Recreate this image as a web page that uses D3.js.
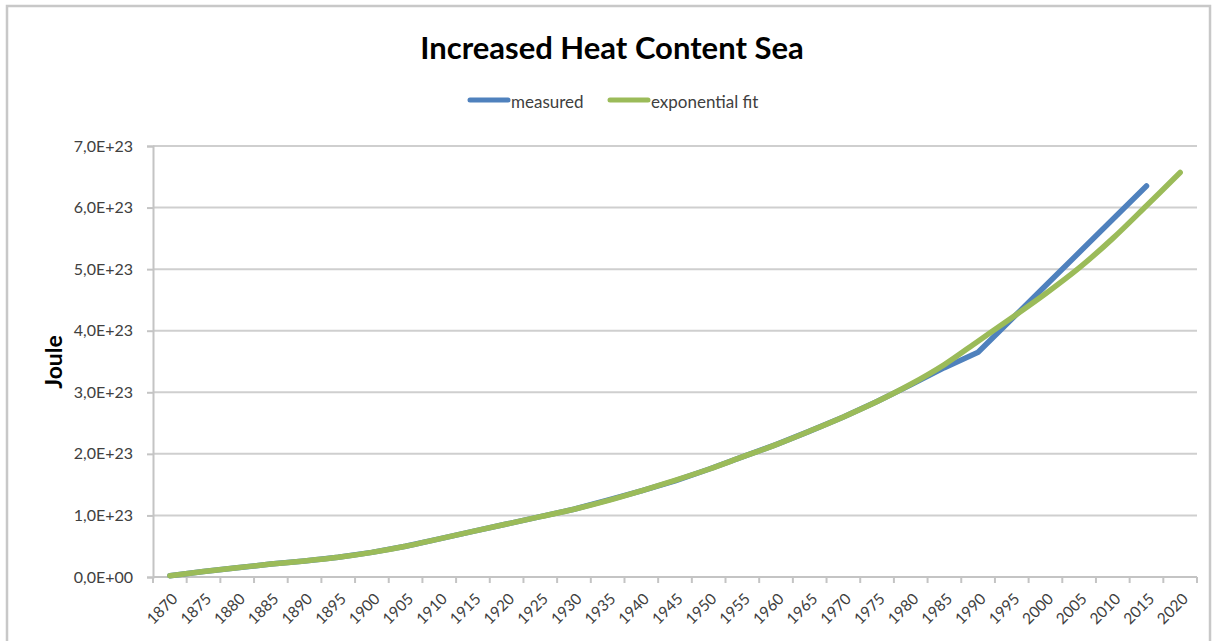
<!DOCTYPE html>
<html>
<head>
<meta charset="utf-8">
<script src="https://cdn.jsdelivr.net/npm/d3@7"></script>
<style>
  html, body { margin: 0; padding: 0; background: #fff; }
  svg { display: block; }
</style>
</head>
<body>
<svg id="chart" width="1218" height="641"></svg>
<script>
const years = ["1870","1875","1880","1885","1890","1895","1900","1905","1910","1915",
  "1920","1925","1930","1935","1940","1945","1950","1955","1960","1965",
  "1970","1975","1980","1985","1990","1995","2000","2005","2010","2015","2020"];

// values in Joule
const measured = [0.02,0.09,0.15,0.21,0.26,0.32,0.40,0.50,0.62,0.74,
  0.86,0.98,1.10,1.25,1.40,1.56,1.75,1.95,2.15,2.37,
  2.60,2.85,3.12,3.40,3.65,4.19,4.73,5.27,5.81,6.35].map(v => v * 1e23);

const expFit = [0.02,0.09,0.15,0.21,0.26,0.32,0.40,0.50,0.62,0.74,
  0.86,0.98,1.10,1.24,1.40,1.57,1.75,1.95,2.15,2.37,
  2.60,2.85,3.13,3.45,3.83,4.21,4.60,5.02,5.50,6.03,6.57].map(v => v * 1e23);

const yTicks = [0,1e23,2e23,3e23,4e23,5e23,6e23,7e23];
const yTickLabels = ["0,0E+00","1,0E+23","2,0E+23","3,0E+23","4,0E+23","5,0E+23","6,0E+23","7,0E+23"];

const seriesNames = ["measured", "exponential fit"];
const seriesColors = ["#4F81BD", "#9BBB59"];

const svg = d3.select("#chart");
const font = "Lato, 'Open Sans', sans-serif";

// outer border
svg.append("rect").attr("x", 7).attr("y", 6).attr("width", 1203).attr("height", 700)
  .attr("fill", "#fff").attr("stroke", "#c8c8c8").attr("stroke-width", 2.5);

const plotLeft = 153, plotRight = 1197, plotTop = 146, plotBottom = 577;

const x = d3.scaleBand().domain(years).range([plotLeft, plotRight]).paddingInner(0).paddingOuter(0);
const y = d3.scaleLinear().domain([0, 7e23]).range([plotBottom, plotTop]);

// gridlines
svg.append("g").selectAll("line").data(yTicks.slice(1)).join("line")
  .attr("x1", plotLeft).attr("x2", plotRight)
  .attr("y1", d => y(d)).attr("y2", d => y(d))
  .attr("stroke", "#cfcfcf").attr("stroke-width", 2);

// y axis
const yAxis = d3.axisLeft(y).tickValues(yTicks).tickSize(6).tickPadding(14)
  .tickFormat((d, i) => yTickLabels[i]);
const gy = svg.append("g").attr("transform", `translate(${plotLeft},0)`).call(yAxis);
gy.select(".domain").attr("stroke", "#c4c4c4").attr("stroke-width", 2);
gy.selectAll(".tick line").attr("stroke", "#c4c4c4").attr("stroke-width", 2);
gy.selectAll(".tick text").attr("fill", "#404040").style("font-family", font).style("font-size", "16px");

// x axis: ticks between categories (category boundaries)
const boundaries = years.map(d => x(d)).concat([plotRight]);
svg.append("line").attr("x1", plotLeft).attr("x2", plotRight).attr("y1", plotBottom).attr("y2", plotBottom)
  .attr("stroke", "#c4c4c4").attr("stroke-width", 2);
svg.append("g").selectAll("line").data(boundaries).join("line")
  .attr("x1", d => d).attr("x2", d => d).attr("y1", plotBottom).attr("y2", plotBottom + 6)
  .attr("stroke", "#c4c4c4").attr("stroke-width", 2);
const xAxis = d3.axisBottom(x).tickSize(0).tickPadding(0);
const gx = svg.append("g").attr("transform", `translate(0,${plotBottom})`).call(xAxis);
gx.select(".domain").remove();
gx.selectAll(".tick text")
  .attr("fill", "#404040").style("font-family", font).style("font-size", "15.5px")
  .attr("text-anchor", "end").attr("dy", "0.35em").attr("y", 0)
  .attr("transform", "translate(5,19) rotate(-45)");

// lines
const cx = d => x(d) + x.bandwidth() / 2;
const lineMeasured = d3.line().x((d, i) => cx(years[i])).y(d => y(d)).curve(d3.curveLinear);
const lineFit = d3.line().x((d, i) => cx(years[i])).y(d => y(d)).curve(d3.curveCatmullRom.alpha(0.5));

svg.append("path").datum(measured).attr("d", lineMeasured)
  .attr("fill", "none").attr("stroke", seriesColors[0]).attr("stroke-width", 5.5)
  .attr("stroke-linecap", "round").attr("stroke-linejoin", "round");
svg.append("path").datum(expFit).attr("d", lineFit)
  .attr("fill", "none").attr("stroke", seriesColors[1]).attr("stroke-width", 5.5)
  .attr("stroke-linecap", "round").attr("stroke-linejoin", "round");

// title
svg.append("text").attr("x", 612).attr("y", 59).attr("text-anchor", "middle")
  .style("font-family", font).style("font-size", "31px").style("font-weight", "bold")
  .attr("fill", "#000").text("Increased Heat Content Sea");

// y-axis title
svg.append("text").attr("transform", "translate(62,362) rotate(-90)").attr("text-anchor", "middle")
  .style("font-family", font).style("font-size", "23px").style("font-weight", "bold")
  .attr("fill", "#000").text("Joule");

// legend
const legendItems = [{x: 470, name: seriesNames[0], color: seriesColors[0]},
                     {x: 610, name: seriesNames[1], color: seriesColors[1]}];
const lg = svg.append("g").selectAll("g").data(legendItems).join("g");
lg.append("line").attr("x1", d => d.x).attr("x2", d => d.x + 38).attr("y1", 100).attr("y2", 100)
  .attr("stroke", d => d.color).attr("stroke-width", 5).attr("stroke-linecap", "round");
lg.append("text").attr("x", d => d.x + 41).attr("y", 108)
  .style("font-family", font).style("font-size", "17px").attr("fill", "#404040")
  .text(d => d.name);
</script>
</body>
</html>
